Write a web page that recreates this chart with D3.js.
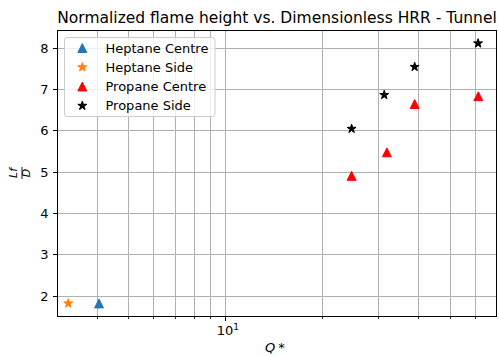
<!DOCTYPE html>
<html>
<head>
<meta charset="utf-8">
<script src="https://cdn.jsdelivr.net/npm/d3@7"></script>
<style>
  body { margin: 0; background: #fff; }
  svg { display: block; }
  text { font-family: "DejaVu Sans", sans-serif; fill: #000; }
</style>
</head>
<body>
<svg id="chart" width="499" height="356"></svg>
<script>
// Measurements: dimensionless heat release rate Q* and normalized flame height Lf/D
const seriesNames = ["Heptane Centre", "Heptane Side", "Propane Centre", "Propane Side"];
const heptaneCentreQ = [4.05];
const heptaneCentreL = [1.82];
const heptaneSideQ = [3.25];
const heptaneSideL = [1.82];
const propaneCentreQ = [24.7, 31.8, 38.8, 61.2];
const propaneCentreL = [4.91, 5.48, 6.65, 6.84];
const propaneSideQ = [24.7, 31.2, 38.8, 61.1];
const propaneSideL = [6.05, 6.87, 7.55, 8.12];

const yTicks = [2, 3, 4, 5, 6, 7, 8];
const xMajorTicks = [10];
const xMinorTicks = [4, 5, 6, 7, 8, 9, 20, 30, 40, 50, 60];

const plot = { left: 57.5, right: 496.5, top: 30.5, bottom: 316 };

const svg = d3.select("#chart");

const x = d3.scaleLog().domain([3.008, 69.7]).range([plot.left, plot.right]);
const y = d3.scaleLinear().domain([1.516, 8.431]).range([plot.bottom, plot.top]);

const snap = v => Math.round(v - 0.5) + 0.5;

// grid (major + minor on the log axis)
const grid = svg.append("g").attr("stroke", "#b0b0b0").attr("stroke-width", 1);
grid.selectAll("line.gx").data(xMajorTicks.concat(xMinorTicks)).join("line")
  .attr("class", "gx")
  .attr("x1", d => snap(x(d))).attr("x2", d => snap(x(d)))
  .attr("y1", plot.top).attr("y2", plot.bottom);
grid.selectAll("line.gy").data(yTicks).join("line")
  .attr("class", "gy")
  .attr("x1", plot.left).attr("x2", plot.right)
  .attr("y1", d => snap(y(d))).attr("y2", d => snap(y(d)));

// marker shapes (filled, with an outline in the same colour)
const triPath = s => `M0,${-s / 2}L${s / 2},${s / 2}L${-s / 2},${s / 2}Z`;
const starR = 4.7;
const starPath = d3.symbol(d3.symbolStar, starR * starR / 0.8908130915292852)();
const triSize = 8.9;

const series = [
  { name: seriesNames[0], q: heptaneCentreQ, l: heptaneCentreL, color: "#1f77b4", shape: "tri" },
  { name: seriesNames[1], q: heptaneSideQ, l: heptaneSideL, color: "#ff7f0e", shape: "star" },
  { name: seriesNames[2], q: propaneCentreQ, l: propaneCentreL, color: "#ff0000", shape: "tri" },
  { name: seriesNames[3], q: propaneSideQ, l: propaneSideL, color: "#000000", shape: "star" }
];

const pathFor = s => s.shape === "tri" ? triPath(triSize) : starPath;

const marks = svg.append("g");
series.forEach(s => {
  marks.append("g").selectAll("path")
    .data(s.q.map((q, i) => [q, s.l[i]]))
    .join("path")
    .attr("d", pathFor(s))
    .attr("fill", s.color)
    .attr("stroke", s.color).attr("stroke-width", 1).attr("stroke-linejoin", "miter")
    .attr("transform", d => `translate(${x(d[0])},${y(d[1])})`);
});

// axes frame
svg.append("rect")
  .attr("x", plot.left).attr("y", plot.top)
  .attr("width", plot.right - plot.left).attr("height", snap(plot.bottom) - plot.top)
  .attr("fill", "none").attr("stroke", "#000").attr("stroke-width", 1);

// y ticks
const yAxis = svg.append("g");
yAxis.selectAll("line").data(yTicks).join("line")
  .attr("x1", plot.left - 4.5).attr("x2", plot.left)
  .attr("y1", d => snap(y(d))).attr("y2", d => snap(y(d)))
  .attr("stroke", "#000").attr("stroke-width", 1);
yAxis.selectAll("text").data(yTicks).join("text")
  .attr("x", 48.5).attr("y", d => y(d) + 4.6)
  .attr("text-anchor", "end").attr("font-size", 13)
  .text(d => d);

// x ticks
const xAxis = svg.append("g");
const yb = snap(plot.bottom);
xAxis.selectAll("line.maj").data(xMajorTicks).join("line")
  .attr("class", "maj")
  .attr("x1", d => snap(x(d))).attr("x2", d => snap(x(d)))
  .attr("y1", yb).attr("y2", yb + 4.5)
  .attr("stroke", "#000").attr("stroke-width", 1);
xAxis.selectAll("line.min").data(xMinorTicks).join("line")
  .attr("class", "min")
  .attr("x1", d => snap(x(d))).attr("x2", d => snap(x(d)))
  .attr("y1", yb).attr("y2", yb + 2.6)
  .attr("stroke", "#000").attr("stroke-width", 0.8);
xAxis.selectAll("text").data(xMajorTicks).join("text")
  .attr("x", d => x(d) + 2.5).attr("y", 335)
  .attr("text-anchor", "middle").attr("font-size", 13)
  .each(function (d) {
    const t = d3.select(this);
    t.append("tspan").text("10");
    t.append("tspan").attr("font-size", 9).attr("dy", -5.5).text(String(Math.round(Math.log10(d))));
  });

// x label
const xl = svg.append("text").attr("x", 265).attr("y", 352).attr("font-size", 13);
xl.append("tspan").attr("font-style", "italic").text("Q");
xl.append("tspan").attr("dx", 3).text("*");

// y label as a stacked fraction, rotated
const yl = svg.append("g").attr("transform", "translate(22,173) rotate(-90)");
yl.append("text").attr("x", 0).attr("y", -5.5).attr("text-anchor", "middle")
  .attr("font-size", 11).attr("font-style", "italic").text("Lf");
yl.append("line").attr("x1", -6).attr("x2", 6).attr("y1", 0).attr("y2", 0)
  .attr("stroke", "#000").attr("stroke-width", 0.9);
yl.append("text").attr("x", 0).attr("y", 8.2).attr("text-anchor", "middle")
  .attr("font-size", 11).attr("font-style", "italic").text("D");

// title
svg.append("text")
  .attr("x", (plot.left + plot.right) / 2).attr("y", 22.7)
  .attr("text-anchor", "middle").attr("font-size", 15.5)
  .text("Normalized flame height vs. Dimensionless HRR - Tunnel");

// legend
const lg = svg.append("g");
lg.append("rect")
  .attr("x", 64.5).attr("y", 37.5).attr("width", 150.5).attr("height", 79)
  .attr("rx", 2.6).attr("fill", "#fff").attr("fill-opacity", 0.8)
  .attr("stroke", "#cccccc").attr("stroke-width", 1);
const items = lg.selectAll("g.item").data(series).join("g")
  .attr("class", "item")
  .attr("transform", (d, i) => `translate(0,${48 + i * 19.25})`);
items.append("path")
  .attr("d", d => pathFor(d))
  .attr("fill", d => d.color)
  .attr("stroke", d => d.color).attr("stroke-width", 1)
  .attr("transform", "translate(82.3,0)");
items.append("text")
  .attr("x", 105.5).attr("y", 4.7).attr("font-size", 13)
  .text(d => d.name);
</script>
</body>
</html>
